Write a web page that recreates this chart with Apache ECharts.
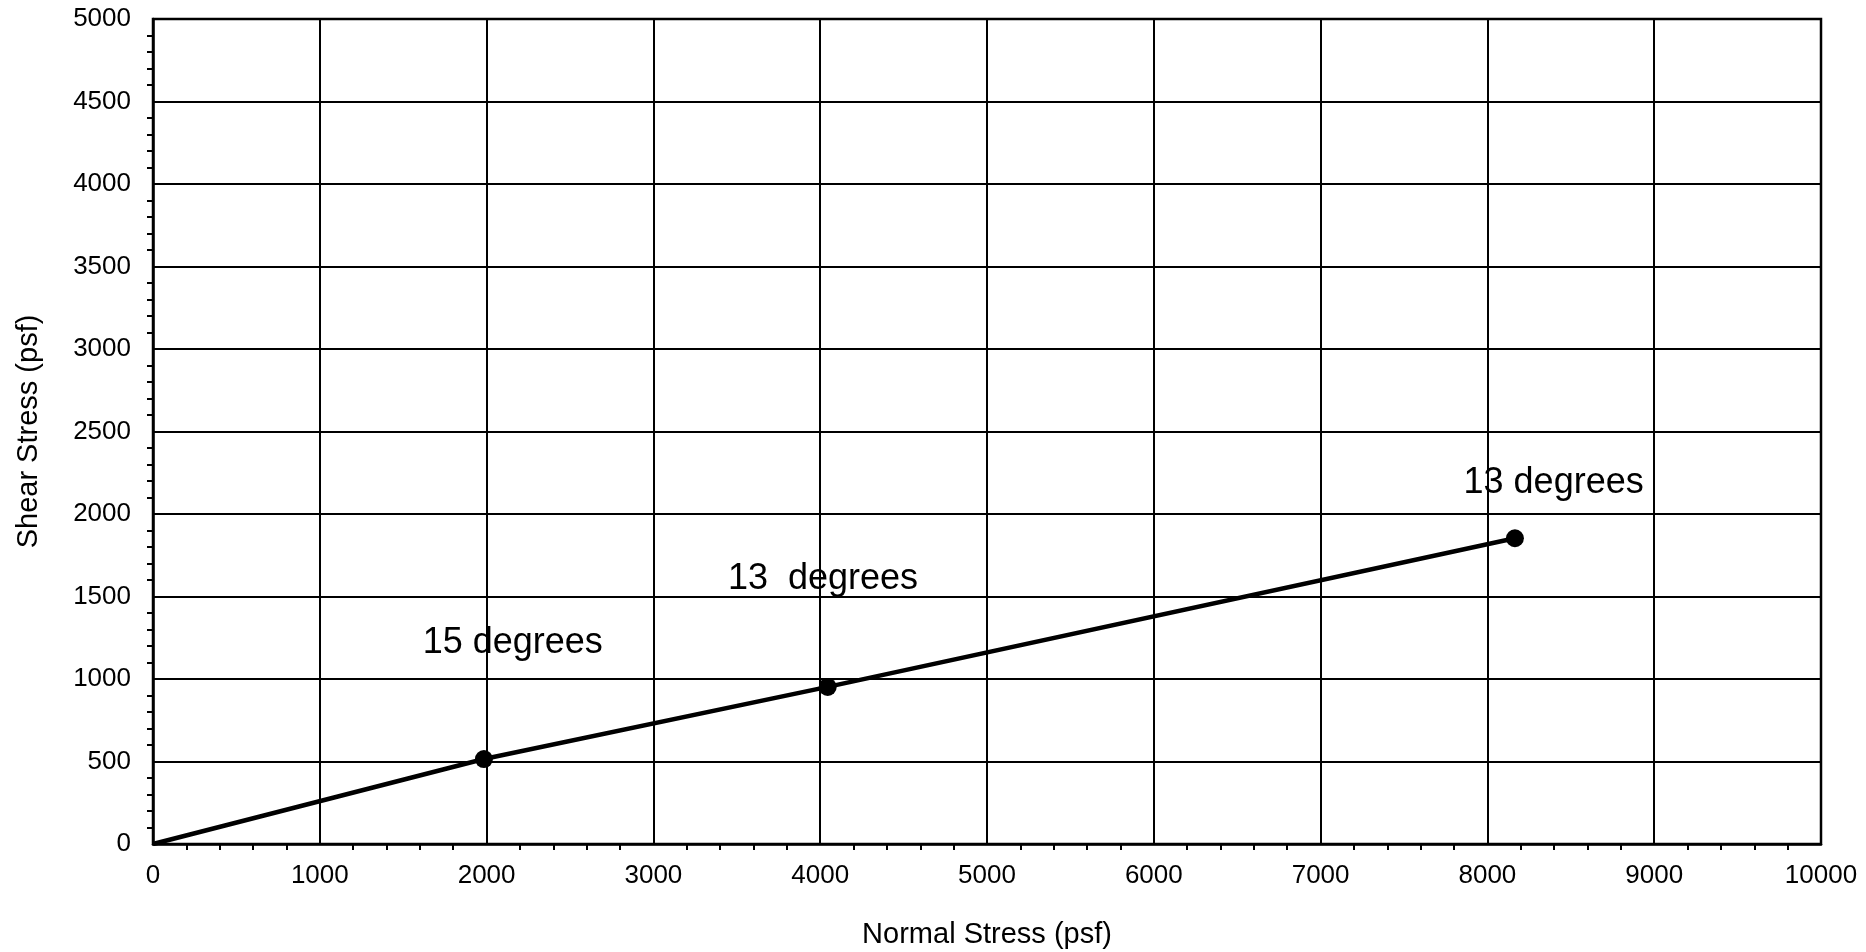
<!DOCTYPE html>
<html>
<head>
<meta charset="utf-8">
<script src="https://cdn.jsdelivr.net/npm/echarts@6/dist/echarts.min.js"></script>
<style>html,body{margin:0;padding:0;background:#fff}#c{width:1866px;height:952px}</style>
</head>
<body>
<div id="c"></div>
<script>
// Data
var normalStress = [0, 1984, 4045, 8165];
var shearStress = [0, 515, 952, 1853];
var labelText = ['15 degrees', '13  degrees', '13 degrees'];
var labelX = [2160, 4020, 8400];
var labelY = [1215, 1603, 2185];
var xTicks = [0, 1000, 2000, 3000, 4000, 5000, 6000, 7000, 8000, 9000, 10000];
var yTicks = [0, 500, 1000, 1500, 2000, 2500, 3000, 3500, 4000, 4500, 5000];

var FONT = '"Liberation Sans", Arial, sans-serif';
var chart = echarts.init(document.getElementById('c'));

var lineData = normalStress.map(function (x, i) {
  var d = { value: [x, shearStress[i]] };
  if (x === 0) d.symbol = 'none';
  return d;
});
var labelData = labelX.map(function (x, i) { return { value: [x, labelY[i]], name: labelText[i] }; });

function plain(v) { return String(v); }

chart.setOption({
  backgroundColor: '#fff',
  animation: false,
  grid: { left: 153, right: 45, top: 19, bottom: 108, containLabel: false, outerBoundsMode: 'none',
    show: true, borderColor: '#000', borderWidth: 2.5, backgroundColor: 'transparent' },
  xAxis: {
    type: 'value', min: xTicks[0], max: xTicks[xTicks.length - 1], interval: 1000,
    name: 'Normal Stress (psf)', nameLocation: 'middle', nameGap: 76,
    nameTextStyle: { fontFamily: FONT, fontSize: 29, color: '#000' },
    axisLine: { show: true, onZero: false, lineStyle: { color: '#000', width: 2.5 } },
    axisTick: { show: false },
    minorTick: { show: true, splitNumber: 5, length: 6, lineStyle: { color: '#000', width: 2 } },
    axisLabel: { fontFamily: FONT, fontSize: 26, color: '#000', margin: 19, formatter: plain },
    splitLine: { show: true, lineStyle: { color: '#000', width: 2 } }
  },
  yAxis: {
    type: 'value', min: yTicks[0], max: yTicks[yTicks.length - 1], interval: 500,
    name: 'Shear Stress (psf)', nameLocation: 'middle', nameGap: 110,
    nameTextStyle: { fontFamily: FONT, fontSize: 29, color: '#000' },
    axisLine: { show: true, onZero: false, lineStyle: { color: '#000', width: 2.5 } },
    axisTick: { show: false },
    minorTick: { show: true, splitNumber: 5, length: 6, lineStyle: { color: '#000', width: 2 } },
    axisLabel: { fontFamily: FONT, fontSize: 26, color: '#000', margin: 22, formatter: plain },
    splitLine: { show: true, lineStyle: { color: '#000', width: 2 } }
  },
  series: [
    {
      type: 'line', data: lineData, symbol: 'circle', symbolSize: 18,
      lineStyle: { color: '#000', width: 4.5 }, itemStyle: { color: '#000' }, z: 5
    },
    {
      type: 'scatter', data: labelData, symbol: 'circle', symbolSize: 1, silent: true,
      itemStyle: { color: 'rgba(255,255,255,0)', opacity: 1 },
      label: { show: true, position: [0, 0], align: 'center', verticalAlign: 'middle',
        formatter: function (p) { return p.name; },
        fontFamily: FONT, fontSize: 36, color: '#000' }, z: 6
    }
  ]
});
</script>
</body>
</html>
